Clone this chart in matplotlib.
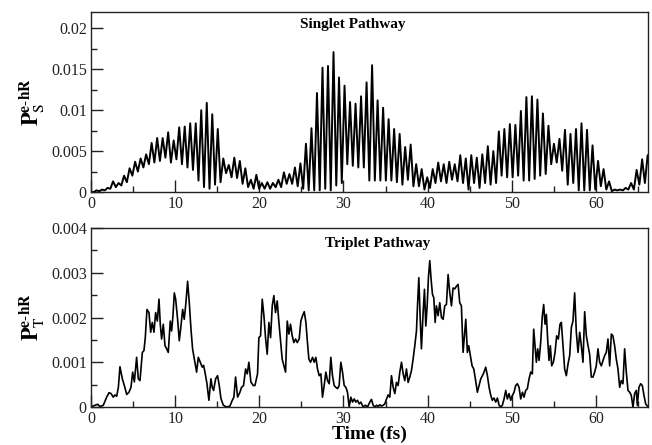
import numpy as np
import matplotlib
matplotlib.use("Agg")
import matplotlib.pyplot as plt
from matplotlib.ticker import MultipleLocator, FuncFormatter

plt.rcParams["font.family"] = ["Liberation Serif", "DejaVu Serif"]
plt.rcParams["mathtext.fontset"] = "stix"

# ---------------------------------------------------------------------------
# Data
# ---------------------------------------------------------------------------

# Singlet pathway: fast oscillation, one peak and one trough per period
SINGLET_PERIOD = 0.655  # fs
singlet_peaks = [
    0.0000, 0.0002, 0.0003, 0.0005, 0.0013, 0.0011, 0.0020, 0.0029, 0.0037, 0.0041,
    0.0046, 0.0060, 0.0066, 0.0066, 0.0073, 0.0063, 0.0079, 0.0080, 0.0084, 0.0084,
    0.0100, 0.0109, 0.0095, 0.0077, 0.0041, 0.0033, 0.0042, 0.0038, 0.0029, 0.0015,
    0.0021, 0.0011, 0.0012, 0.0011, 0.0015, 0.0024, 0.0022, 0.0030, 0.0035, 0.0059,
    0.0078, 0.0121, 0.0152, 0.0154, 0.0171, 0.0140, 0.0130, 0.0110, 0.0108, 0.0117,
    0.0134, 0.0155, 0.0112, 0.0103, 0.0089, 0.0077, 0.0071, 0.0055, 0.0058, 0.0034,
    0.0028, 0.0018, 0.0028, 0.0036, 0.0034, 0.0037, 0.0034, 0.0045, 0.0041, 0.0045,
    0.0042, 0.0046, 0.0056, 0.0050, 0.0074, 0.0077, 0.0083, 0.0082, 0.0099, 0.0116,
    0.0117, 0.0113, 0.0096, 0.0081, 0.0059, 0.0065, 0.0076, 0.0071, 0.0077, 0.0084,
    0.0076, 0.0057, 0.0038, 0.0028, 0.0013, 0.0003, 0.0003, 0.0005, 0.0011, 0.0027,
    0.0040, 0.0045,
]
singlet_troughs = [
    0.0000, 0.0001, 0.0002, 0.0004, 0.0006, 0.0008, 0.0012, 0.0020, 0.0025, 0.0030,
    0.0034, 0.0036, 0.0038, 0.0042, 0.0036, 0.0040, 0.0034, 0.0030, 0.0027, 0.0014,
    0.0006, 0.0004, 0.0009, 0.0012, 0.0023, 0.0018, 0.0017, 0.0010, 0.0006, 0.0004,
    0.0004, 0.0004, 0.0004, 0.0006, 0.0006, 0.0010, 0.0010, 0.0007, 0.0004, 0.0002,
    0.0002, 0.0002, 0.0004, 0.0002, 0.0008, 0.0011, 0.0034, 0.0032, 0.0030, 0.0030,
    0.0014, 0.0014, 0.0014, 0.0014, 0.0014, 0.0012, 0.0009, 0.0015, 0.0007, 0.0007,
    0.0003, 0.0005, 0.0011, 0.0013, 0.0011, 0.0015, 0.0013, 0.0011, 0.0003, 0.0011,
    0.0005, 0.0011, 0.0009, 0.0011, 0.0020, 0.0018, 0.0018, 0.0020, 0.0014, 0.0014,
    0.0016, 0.0020, 0.0022, 0.0034, 0.0036, 0.0026, 0.0009, 0.0011, 0.0002, 0.0002,
    0.0002, 0.0003, 0.0007, 0.0003, 0.0001, 0.0002, 0.0002, 0.0003, 0.0003, 0.0009,
    0.0011, 0.0024,
]

# Triplet pathway: irregular trace, (time in fs, probability in units of 1e-3)
triplet_time = [
    0.00, 0.48, 0.79, 1.07, 1.46, 1.86, 2.14, 2.38, 2.65, 2.85, 3.05, 3.25, 3.44, 3.72,
    3.96, 4.24, 4.51, 4.75, 4.95, 5.15, 5.42, 5.62, 5.82, 6.10, 6.29, 6.45, 6.65, 6.89,
    7.09, 7.28, 7.48, 7.68, 7.88, 8.08, 8.23, 8.39, 8.59, 8.79, 8.99, 9.18, 9.42, 9.58,
    9.74, 9.90, 10.06, 10.29, 10.49, 10.69, 10.89, 11.08, 11.28, 11.48, 11.68, 11.88,
    12.07, 12.35, 12.55, 12.75, 12.98, 13.22, 13.38, 13.54, 13.78, 14.01, 14.25, 14.41,
    14.57, 14.81, 15.04, 15.24, 15.44, 15.72, 16.11, 16.51, 16.79, 16.98, 17.18, 17.42,
    17.70, 17.89, 18.13, 18.37, 18.57, 18.76, 19.00, 19.28, 19.48, 19.79, 19.95, 20.15,
    20.35, 20.55, 20.74, 20.94, 21.14, 21.34, 21.54, 21.73, 21.93, 22.13, 22.33, 22.53,
    22.72, 23.12, 23.32, 23.52, 23.71, 23.91, 24.11, 24.31, 24.51, 24.74, 24.94, 25.14,
    25.34, 25.54, 25.69, 25.89, 26.09, 26.33, 26.53, 26.72, 26.92, 27.12, 27.32, 27.51,
    27.71, 27.91, 28.11, 28.31, 28.50, 28.70, 28.90, 29.10, 29.30, 29.49, 29.69, 29.89,
    30.09, 30.29, 30.48, 30.68, 30.88, 31.08, 31.28, 31.47, 31.67, 31.87, 32.07, 32.34,
    32.62, 32.86, 33.14, 33.33, 33.53, 33.73, 33.93, 34.13, 34.32, 34.52, 34.72, 34.92,
    35.12, 35.31, 35.51, 35.71, 35.91, 36.11, 36.30, 36.50, 36.70, 36.90, 37.10, 37.29,
    37.49, 37.69, 37.89, 38.08, 38.28, 38.48, 38.68, 38.80, 38.96, 39.11, 39.27, 39.47,
    39.63, 39.79, 39.95, 40.10, 40.26, 40.42, 40.58, 40.74, 40.90, 41.05, 41.25, 41.45,
    41.65, 41.85, 42.04, 42.24, 42.44, 42.64, 42.84, 43.03, 43.23, 43.43, 43.63, 43.82,
    44.02, 44.22, 44.42, 44.54, 44.73, 44.89, 45.09, 45.29, 45.49, 45.68, 45.92, 46.12,
    46.32, 46.52, 46.71, 46.91, 47.11, 47.31, 47.51, 47.70, 47.90, 48.10, 48.30, 48.50,
    48.69, 48.89, 49.09, 49.29, 49.48, 49.68, 49.88, 50.08, 50.28, 50.47, 50.67, 50.87,
    51.07, 51.27, 51.46, 51.66, 51.86, 52.06, 52.26, 52.45, 52.61, 52.77, 52.93, 53.09,
    53.25, 53.44, 53.64, 53.80, 53.96, 54.12, 54.27, 54.43, 54.59, 54.75, 54.95, 55.15,
    55.34, 55.54, 55.74, 55.90, 56.10, 56.29, 56.49, 56.69, 56.89, 57.09, 57.28, 57.48,
    57.68, 57.88, 58.08, 58.27, 58.47, 58.67, 58.87, 59.07, 59.26, 59.46, 59.66, 59.86,
    60.05, 60.25, 60.45, 60.65, 60.85, 61.05, 61.24, 61.44, 61.64, 61.84, 62.03, 62.23,
    62.43, 62.63, 62.83, 63.02, 63.22, 63.42, 63.62, 63.82, 64.02, 64.21, 64.41, 64.61,
    64.81, 64.93, 65.12, 65.32, 65.52, 65.72, 65.92, 66.20,
]
triplet_prob_1e3 = [
    0.00, 0.04, 0.06, 0.01, 0.04, 0.22, 0.32, 0.30, 0.22, 0.27, 0.24, 0.44, 0.90, 0.63,
    0.48, 0.28, 0.33, 0.44, 0.78, 0.56, 1.11, 0.63, 0.59, 1.22, 1.26, 1.55, 2.18, 2.11,
    1.67, 1.89, 1.67, 2.11, 1.92, 2.41, 1.85, 1.52, 1.85, 1.37, 1.30, 1.22, 1.92, 1.70,
    2.04, 2.55, 2.41, 1.96, 1.48, 1.81, 2.18, 1.96, 2.33, 2.81, 2.33, 1.74,
    1.30, 1.00, 0.78, 1.11, 1.00, 0.89, 0.93, 0.78, 0.52, 0.15, 0.63, 0.44,
    0.37, 0.63, 0.70, 0.48, 0.19, 0.04, 0.00, 0.02, 0.15, 0.22, 0.67, 0.22,
    0.33, 0.44, 0.48, 0.85, 0.74, 1.00, 0.56, 0.48, 0.48, 0.74, 1.55, 1.59,
    2.41, 2.04, 1.55, 1.18, 1.89, 1.55, 2.26, 2.49, 2.11, 2.37, 1.89, 1.48,
    1.07, 0.78, 1.92, 1.63, 1.85, 1.59, 1.44, 1.52, 1.44, 1.52, 1.92, 2.04,
    2.13, 1.89, 1.52, 1.07, 1.00, 1.11, 1.00, 1.11, 0.85, 0.70, 0.74, 0.22,
    0.48, 0.78, 0.59, 0.52, 1.11, 0.70, 0.48, 0.44, 0.41, 0.48, 1.00, 0.78,
    0.48, 0.44, 0.33, 0.00, 0.22, 0.11, 0.18, 0.11, 0.15, 0.07, 0.11, 0.00,
    0.04, 0.00, 0.11, 0.17, 0.04, 0.00, 0.04, 0.01, 0.05, 0.02, 0.04, 0.07,
    0.18, 0.27, 0.22, 0.70, 0.44, 0.30, 0.55, 0.48, 0.78, 1.00, 0.74, 0.59,
    0.85, 0.55, 0.67, 0.81, 1.07, 1.37, 1.70, 2.26, 2.89, 2.04, 1.30, 2.11,
    2.63, 1.81, 2.26, 2.89, 3.27, 2.85, 2.52, 2.44, 1.89, 2.26, 2.04, 2.33,
    2.00, 1.96, 2.26, 2.29, 2.96, 2.55, 2.26, 2.66, 2.64, 2.70, 2.74, 2.33,
    2.26, 1.22, 1.67, 1.96, 1.22, 1.37, 1.15, 0.92, 0.85, 0.63, 0.33, 0.48,
    0.63, 0.70, 0.78, 0.89, 0.70, 0.44, 0.26, 0.15, 0.20, 0.11, 0.20, 0.04,
    0.00, 0.04, 0.18, 0.37, 0.18, 0.30, 0.15, 0.26, 0.33, 0.48, 0.52, 0.44,
    0.18, 0.33, 0.22, 0.37, 0.41, 0.63, 0.78, 0.74, 1.74, 1.37, 1.00, 1.30,
    1.04, 1.44, 2.04, 2.29, 1.85, 2.07, 1.52, 1.04, 1.37, 0.92, 1.00, 1.22,
    1.59, 1.52, 1.85, 1.89, 1.37, 0.85, 0.70, 0.96, 1.15, 1.78, 1.92, 2.55,
    1.67, 1.22, 1.67, 1.37, 1.00, 2.13, 1.59, 1.37, 1.18, 0.67, 0.67, 0.78,
    0.92, 1.30, 1.00, 0.92, 1.04, 1.15, 1.22, 1.52, 0.92, 1.63, 1.59, 1.37,
    1.07, 0.85, 0.44, 0.59, 0.52, 1.30, 0.78, 0.37, 0.33, 0.26, 0.00, 0.30,
    0.37, 0.04, 0.44, 0.52, 0.48, 0.26, 0.07, 0.00,
]

T_MAX = 66.2


def _singlet_series():
    """Interleave the read-off peaks and troughs on the oscillation grid."""
    values = np.empty(len(singlet_peaks) + len(singlet_troughs))
    values[0::2] = singlet_peaks
    values[1::2] = singlet_troughs
    times = np.arange(len(values)) * (SINGLET_PERIOD / 2)
    return times, values


def _style_axis(ax, ymax, ymajor, yminor):
    ax.set_xlim(0, T_MAX)
    ax.set_ylim(0, ymax)
    ax.xaxis.set_major_locator(MultipleLocator(10))
    ax.xaxis.set_minor_locator(MultipleLocator(5))
    ax.yaxis.set_major_locator(MultipleLocator(ymajor))
    ax.yaxis.set_minor_locator(MultipleLocator(yminor))
    ax.yaxis.set_major_formatter(FuncFormatter(lambda v, _: f"{v:g}"))
    ax.tick_params(which="both", direction="in", top=False, right=False,
                   labelsize=11.5, pad=3, width=1.0, colors="#222222")
    ax.tick_params(which="major", length=8.5)
    ax.tick_params(which="minor", length=4)
    for spine in ax.spines.values():
        spine.set_linewidth(1.0)
        spine.set_color("#222222")


fig = plt.figure(figsize=(6.52, 4.45), dpi=100)
ax_s = fig.add_axes([0.1396, 0.5685, 0.8543, 0.4045])
ax_t = fig.add_axes([0.1396, 0.0854, 0.8543, 0.4022])

t_s, p_s = _singlet_series()
ax_s.plot(t_s, p_s, color="black", linewidth=1.4, solid_joinstyle="round")
_style_axis(ax_s, 0.022, 0.005, 0.0025)
ax_s.text(0.47, 0.93, "Singlet Pathway", transform=ax_s.transAxes,
          ha="center", va="center", fontsize=11, fontweight="bold")
ax_s.set_ylabel(r"$\mathbf{P}_{\mathrm{S}}^{\mathbf{e\text{-}hR}}$",
                fontsize=16, labelpad=3)

ax_t.plot(triplet_time, np.array(triplet_prob_1e3) * 1e-3, color="black",
          linewidth=1.2, solid_joinstyle="round")
_style_axis(ax_t, 0.004, 0.001, 0.0005)
ax_t.text(0.514, 0.915, "Triplet Pathway", transform=ax_t.transAxes,
          ha="center", va="center", fontsize=11, fontweight="bold")
ax_t.set_ylabel(r"$\mathbf{P}_{\mathrm{T}}^{\mathbf{e\text{-}hR}}$",
                fontsize=16, labelpad=3)
ax_t.set_xlabel("Time (fs)", fontsize=14, fontweight="bold", labelpad=-1)

fig.savefig("out.png", dpi=100)
